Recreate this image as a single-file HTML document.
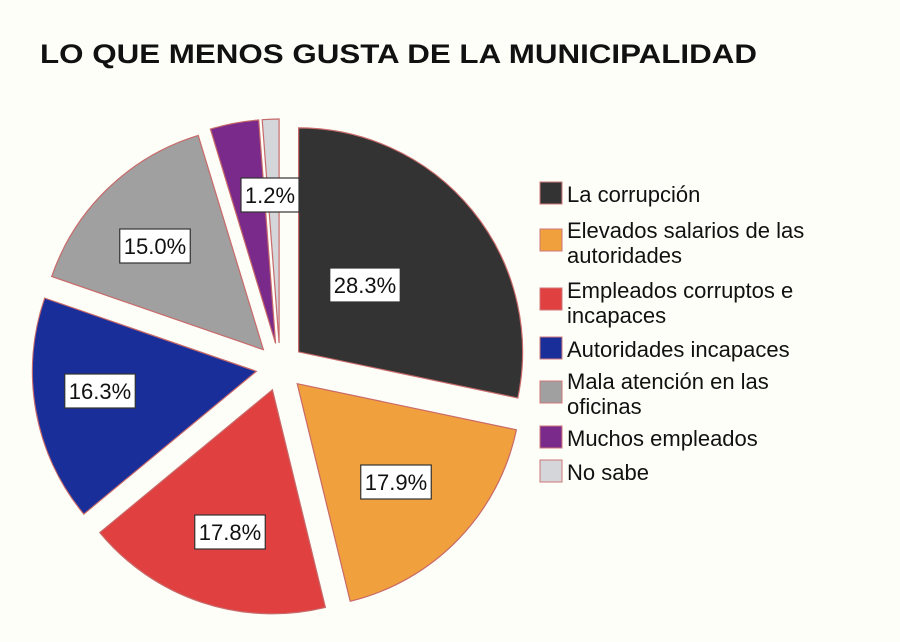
<!DOCTYPE html>
<html><head><meta charset="utf-8"><style>
html,body{margin:0;padding:0;background:#fefef9;}
svg{display:block;font-family:"Liberation Sans",Arial,sans-serif;}
</style></head><body>
<svg id="s" width="900" height="642" viewBox="0 0 900 642" xmlns="http://www.w3.org/2000/svg">
<rect width="900" height="642" fill="#fefef9"/>
<text x="40" y="63" font-size="27" font-weight="bold" fill="#111" textLength="717" lengthAdjust="spacingAndGlyphs">LO QUE MENOS GUSTA DE LA MUNICIPALIDAD</text>
<g id="pie"></g>
<g font-size="22" fill="#111">
<rect x="540" y="182" width="22" height="22" fill="#333" stroke="#c77" stroke-width="1"/>
<text x="567" y="202">La corrupción</text>
<rect x="540" y="229" width="22" height="22" fill="#f0a03c" stroke="#c77" stroke-width="1"/>
<text x="567" y="238">Elevados salarios de las</text>
<text x="567" y="263">autoridades</text>
<rect x="540" y="288" width="22" height="22" fill="#e04040" stroke="#c77" stroke-width="1"/>
<text x="567" y="298">Empleados corruptos e</text>
<text x="567" y="323">incapaces</text>
<rect x="540" y="337" width="22" height="22" fill="#1a2e9a" stroke="#c77" stroke-width="1"/>
<text x="567" y="357">Autoridades incapaces</text>
<rect x="540" y="381" width="22" height="22" fill="#a0a0a0" stroke="#c77" stroke-width="1"/>
<text x="567" y="389">Mala atención en las</text>
<text x="567" y="414">oficinas</text>
<rect x="540" y="426" width="22" height="22" fill="#7a2a8a" stroke="#c77" stroke-width="1"/>
<text x="567" y="446">Muchos empleados</text>
<rect x="540" y="460" width="22" height="22" fill="#d4d6da" stroke="#c77" stroke-width="1"/>
<text x="567" y="480">No sabe</text>
</g>
<g id="labels" font-size="22" fill="#111" text-anchor="middle"></g>
</svg>
<script>
var cx=280,cy=367,r=224,d=24;
var data=[[28.3,"#333333"],[17.9,"#f0a03c"],[17.8,"#e04040"],[16.3,"#1a2e9a"],[15.0,"#a0a0a0"],[3.5,"#7a2a8a"],[1.2,"#d4d6da"]];
var g=document.getElementById("pie"),a=0,html="";
function pt(x,y,ang,rr){var t=ang*Math.PI/180;return [x+rr*Math.sin(t),y-rr*Math.cos(t)];}
data.forEach(function(s){
 var a0=a,a1=a+s[0]*3.6,m=(a0+a1)/2;a=a1;
 var c=pt(cx,cy,m,d),p0=pt(c[0],c[1],a0,r),p1=pt(c[0],c[1],a1,r);
 html+='<path d="M'+c[0].toFixed(1)+','+c[1].toFixed(1)+'L'+p0[0].toFixed(1)+','+p0[1].toFixed(1)+'A'+r+','+r+' 0 '+((a1-a0)>180?1:0)+' 1 '+p1[0].toFixed(1)+','+p1[1].toFixed(1)+'Z" fill="'+s[1]+'" stroke="#c86a6a" stroke-width="1.2"/>';
});
g.innerHTML=html;
var L=[["28.3%",365,285],["17.9%",396,482],["17.8%",230,532],["16.3%",100,391],["15.0%",155,246],["1.2%",270,195]];
var lh="";
L.forEach(function(l){var w=l[0].length*12.5+8;
 lh+='<rect x="'+(l[1]-w/2)+'" y="'+(l[2]-17)+'" width="'+w+'" height="34" fill="#fff" stroke="#333" stroke-width="1.2"/>';
 lh+='<text x="'+l[1]+'" y="'+(l[2]+8)+'">'+l[0]+'</text>';});
document.getElementById("labels").innerHTML=lh;
</script>
</body></html>
